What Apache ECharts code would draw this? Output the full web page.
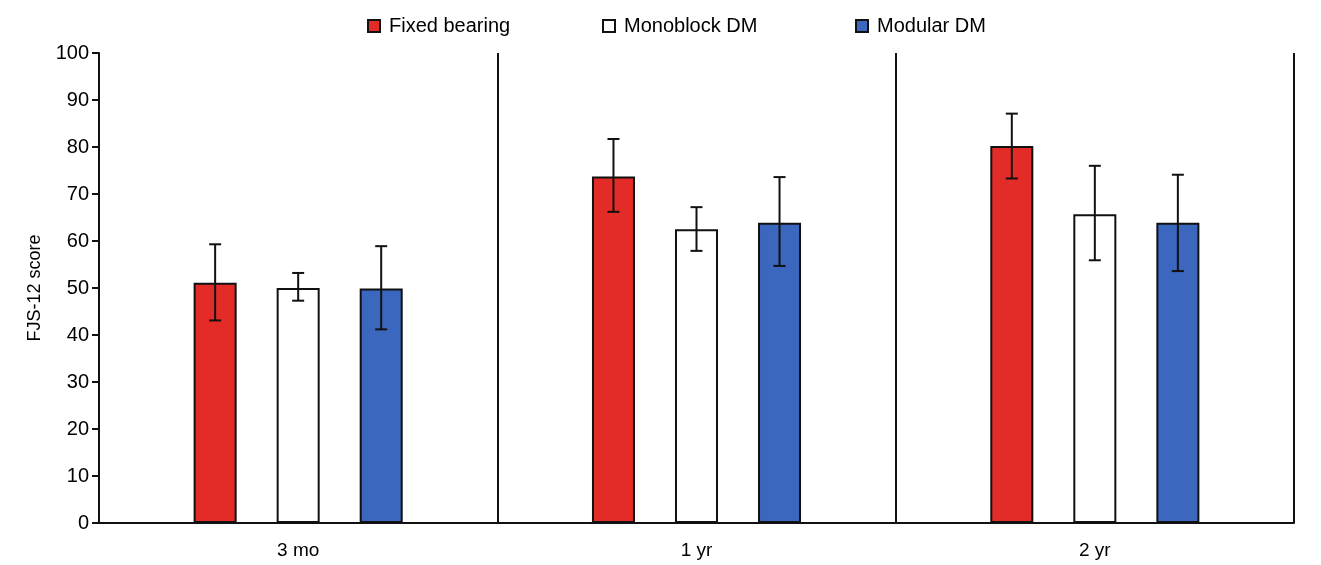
<!DOCTYPE html>
<html><head><meta charset="utf-8">
<script src="https://cdn.jsdelivr.net/npm/echarts@6/dist/echarts.min.js"></script>
<style>html,body{margin:0;padding:0;background:#fff}#c{width:1321px;height:565px}</style>
</head><body><div id="c"></div>
<script>
const categories = ['3 mo', '1 yr', '2 yr'];
const seriesNames = ['Fixed bearing', 'Monoblock DM', 'Modular DM'];
const fixedMean = [51.1, 73.7, 80.2];
const fixedLow = [43.1, 66.2, 73.3];
const fixedHigh = [59.3, 81.7, 87.1];
const monoMean = [50.0, 62.5, 65.7];
const monoLow = [47.3, 57.9, 55.9];
const monoHigh = [53.2, 67.2, 76.0];
const modMean = [49.9, 63.9, 63.9];
const modLow = [41.2, 54.7, 53.6];
const modHigh = [58.9, 73.6, 74.1];
const yTicks = [0, 10, 20, 30, 40, 50, 60, 70, 80, 90, 100];

const colors = ['#e32b27', '#ffffff', '#3b67be'];
const means = [fixedMean, monoMean, modMean];
const lows = [fixedLow, monoLow, modLow];
const highs = [fixedHigh, monoHigh, modHigh];
const BAR_FRAC = 0.108, GAP = 0.93;
const legendLefts = [367, 602, 855];

const chart = echarts.init(document.getElementById('c'));
const series = [];
seriesNames.forEach((n, i) => {
  series.push({
    name: n, type: 'bar', data: means[i], barWidth: (BAR_FRAC * 100) + '%', barGap: (GAP * 100) + '%',
    itemStyle: { color: colors[i], borderColor: '#111', borderWidth: 2 }
  });
});
seriesNames.forEach((n, i) => {
  series.push({
    type: 'custom', name: n + ' err', silent: true, z: 5,
    data: categories.map((c, k) => [k, lows[i][k], highs[i][k]]),
    encode: { x: 0, y: [1, 2] },
    renderItem: function (params, api) {
      const k = api.value(0);
      const band = api.size([1, 0])[0];
      const bw = band * BAR_FRAC;
      const off = bw * (1 + GAP) * (i - 1);
      const lo = api.coord([k, api.value(1)]);
      const hi = api.coord([k, api.value(2)]);
      const x = lo[0] + off;
      const cap = 6;
      const st = { stroke: '#111', lineWidth: 2 };
      return { type: 'group', children: [
        { type: 'line', shape: { x1: x, y1: lo[1], x2: x, y2: hi[1] }, style: st },
        { type: 'line', shape: { x1: x - cap, y1: hi[1], x2: x + cap, y2: hi[1] }, style: st },
        { type: 'line', shape: { x1: x - cap, y1: lo[1], x2: x + cap, y2: lo[1] }, style: st }
      ]};
    }
  });
});

chart.setOption({
  animation: false,
  backgroundColor: '#ffffff',
  textStyle: { fontFamily: 'Liberation Sans, Arial, sans-serif' },
  legend: seriesNames.map((n, i) => ({
    data: [{ name: n, icon: 'rect' }], top: 16, left: legendLefts[i], padding: 0, itemWidth: 12, itemHeight: 12,
    textStyle: { fontSize: 20, color: '#000', fontFamily: 'Liberation Sans', padding: [0, 0, 0, 4] },
    itemStyle: { borderColor: '#111', borderWidth: 2 }
  })),
  grid: { left: 99, right: 27, top: 53, bottom: 42, containLabel: false },
  xAxis: {
    type: 'category', data: categories,
    axisLine: { lineStyle: { color: '#111', width: 2 } },
    axisTick: { show: false },
    axisLabel: { fontSize: 19, color: '#000', margin: 18 },
    splitLine: { show: true, lineStyle: { color: '#111', width: 2 } }
  },
  yAxis: {
    type: 'value', min: yTicks[0], max: yTicks[yTicks.length - 1], interval: 10,
    name: 'FJS-12 score', nameLocation: 'middle', nameGap: 55, nameRotate: 90,
    nameTextStyle: { fontSize: 18, color: '#000' },
    axisLine: { show: true, lineStyle: { color: '#111', width: 2 } },
    axisTick: { show: true, length: 7, lineStyle: { color: '#111', width: 2 } },
    axisLabel: { fontSize: 20, color: '#000', margin: 10 },
    splitLine: { show: false }
  },
  series: series
});
</script></body></html>
